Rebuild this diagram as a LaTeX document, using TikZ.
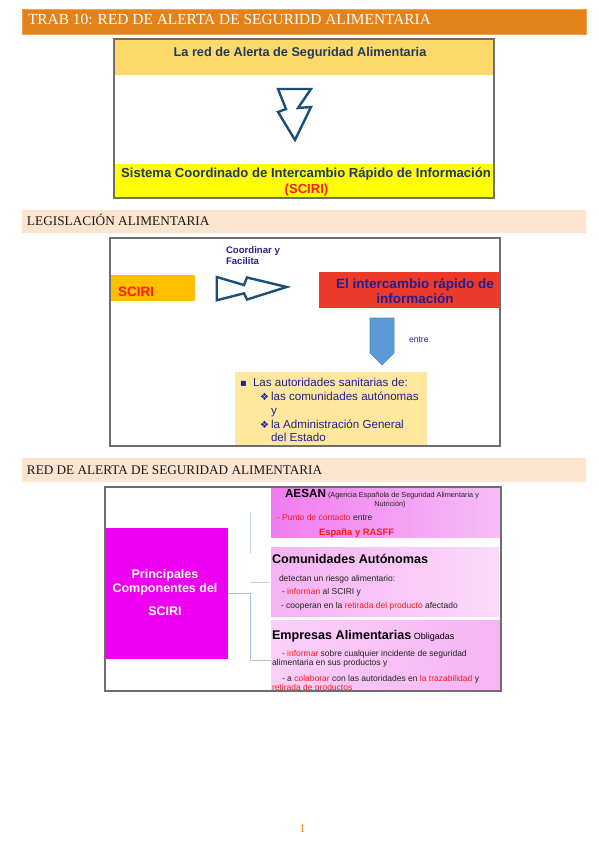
\documentclass[tikz,border=0pt]{standalone}
\usepackage{fontspec}
\setmainfont{Liberation Serif}
\newfontfamily\arialf{Liberation Sans}
\newfontfamily\dejavf{DejaVu Sans}
\newcommand\myfs[1]{\fontsize{#1}{#1}\selectfont}
\definecolor{orangebar}{HTML}{E4821A}
\definecolor{orangelight}{HTML}{F0A24E}
\definecolor{peach}{HTML}{FCE4CE}
\definecolor{navyA}{HTML}{1F3864}
\definecolor{yband}{HTML}{FDD96A}
\definecolor{ybright}{HTML}{FFFF00}
\definecolor{sred}{HTML}{FF1A1A}
\definecolor{boltblue}{HTML}{1B4F7A}
\definecolor{sciorange}{HTML}{FFC000}
\definecolor{redbox}{HTML}{EC3A2A}
\definecolor{navyB}{HTML}{22208E}
\definecolor{arrowblue}{HTML}{5B9BD5}
\definecolor{arrowedge}{HTML}{4A86C0}
\definecolor{lyellow}{HTML}{FFE79E}
\definecolor{magentab}{HTML}{F000F0}
\definecolor{connc}{HTML}{A9BCD8}
\definecolor{boxgray}{HTML}{6E6E6E}
\definecolor{darktext}{HTML}{222222}
\definecolor{pinkAl}{HTML}{F07CF0}
\definecolor{pinkAr}{HTML}{F6BDF6}
\definecolor{pinkBl}{HTML}{F6B2F3}
\definecolor{pinkBr}{HTML}{FBDAFA}
\definecolor{pinkCl}{HTML}{FAD0F8}
\definecolor{pinkCr}{HTML}{F7B4F3}
\tikzset{
  bar/.style={anchor=north west, minimum width=564pt},
  hdrtxt/.style={anchor=base west, font=\myfs{13.3}, text=black!90},
  frame/.style={anchor=north west, draw=boxgray, line width=1.5pt},
  hollowarrow/.style={draw=boltblue, line width=2.4pt, fill=white, line join=miter},
  sans/.style={anchor=base west, font=\arialf\myfs{8.5}, text=darktext},
  navytxt/.style={anchor=base west, font=\arialf\myfs{11.6}, text=navyB},
  bulletglyph/.style={anchor=base west, font=\dejavf\myfs{10}, text=navyB},
  conn/.style={draw=connc, line width=1pt},
  panel/.style={anchor=north west},
}
\begin{document}
\begin{tikzpicture}[x=1pt,y=-1pt, every node/.style={inner sep=0pt, outer sep=0pt}]
\useasboundingbox (0,0) rectangle (599,848);

% ---------- Header 1
\node[bar, fill=orangebar, draw=orangelight, line width=0.6pt, minimum height=25pt] (h1) at (22,9) {};
\node[anchor=base west, font=\myfs{15.4}, text=white] (h1t) at (28,25) {TRAB 10: RED DE ALERTA DE SEGURIDD ALIMENTARIA};

% ---------- Box 1
\node[panel, fill=yband, minimum width=380pt, minimum height=36pt] (band1) at (114,39) {};
\node[panel, fill=ybright, minimum width=380pt, minimum height=34pt] (band2) at (114,164) {};
\node[frame, minimum width=380pt, minimum height=159pt] (box1) at (114,39) {};
\node[anchor=base, font=\arialf\bfseries\myfs{12.7}, text=navyA] (t1) at (300,56.5) {La red de Alerta de Seguridad Alimentaria};
\node[anchor=base, font=\arialf\bfseries\myfs{13.1}, text=navyA] (t2) at (306,177.7) {Sistema Coordinado de Intercambio Rápido de Información};
\node[anchor=base, font=\arialf\bfseries\myfs{13.1}, text=sred] (t3) at (306.5,193.5) {(SCIRI)};
\draw[hollowarrow] (278,89) -- (311,89) -- (298,108) -- (311,107) -- (295,140) -- (278,112) -- (286,109) -- cycle;

% ---------- Header 2
\node[bar, fill=peach, minimum height=23pt] (h2) at (22,210) {};
\node[hdrtxt] (h2t) at (27,225.7) {LEGISLACIÓN ALIMENTARIA};

% ---------- Box 2
\node[panel, fill=sciorange, minimum width=85pt, minimum height=26pt] (sciri) at (110,275) {};
\node[anchor=base west, font=\arialf\bfseries\myfs{13.5}, text=sred] (scirit) at (118,296.7) {SCIRI};
\node[anchor=base west, font=\arialf\bfseries\myfs{9.6}, text=navyB] (coord1) at (226,253.3) {Coordinar y};
\node[anchor=base west, font=\arialf\bfseries\myfs{9.6}, text=navyB] (coord2) at (226,264.3) {Facilita};
\draw[hollowarrow] (216.7,277) -- (244,285) -- (247,277.5) -- (286.7,287) -- (247,299.5) -- (244,293.3) -- (216.7,300.3) -- cycle;
\node[panel, fill=redbox, minimum width=180pt, minimum height=36pt] (redb) at (319,272) {};
\node[anchor=base, font=\arialf\bfseries\myfs{13.5}, text=navyB] (red1) at (415,288) {El intercambio rápido de};
\node[anchor=base, font=\arialf\bfseries\myfs{13.5}, text=navyB] (red2) at (415,303) {información};
\draw[draw=arrowedge, fill=arrowblue, line width=0.6pt] (370,318) -- (394,318) -- (394,353) -- (382,365) -- (370,353) -- cycle;
\node[anchor=base west, font=\arialf\myfs{8.6}, text=navyB] (entre) at (409,342.5) {entre};
\node[panel, fill=lyellow, minimum width=192pt, minimum height=73pt] (ybox) at (235,372) {};
\node[bulletglyph] (bul0) at (240,386) {▪};
\node[navytxt] (l1) at (253,386) {Las autoridades sanitarias de:};
\node[bulletglyph] (bul1) at (260,400) {❖};
\node[navytxt] (l2) at (271,400) {las comunidades autónomas};
\node[navytxt] (l3) at (271,414) {y};
\node[bulletglyph] (bul2) at (260,428) {❖};
\node[navytxt] (l4) at (271,428) {la Administración General};
\node[navytxt] (l5) at (271,441.5) {del Estado};
\node[frame, minimum width=390pt, minimum height=208pt] (box2) at (110,238) {};

% ---------- Header 3
\node[bar, fill=peach, minimum height=24pt] (h3) at (22,458) {};
\node[hdrtxt, font=\myfs{13.2}] (h3t) at (27,474) {RED DE ALERTA DE SEGURIDAD ALIMENTARIA};

% ---------- Box 3
\node[panel, fill=magentab, minimum width=122pt, minimum height=131pt] (mag) at (106,528) {};
\node[anchor=base, font=\arialf\bfseries\myfs{12.5}, text=white] (m1) at (165,578) {Principales};
\node[anchor=base, font=\arialf\bfseries\myfs{12.5}, text=white] (m2) at (165,592.5) {Componentes del};
\node[anchor=base, font=\arialf\bfseries\myfs{12.5}, text=white] (m3) at (165,615) {SCIRI};

\node[panel, left color=pinkAl, right color=pinkAr, minimum width=229pt, minimum height=50pt] (p1) at (271,487) {};
\node[panel, left color=pinkBl, right color=pinkBr, minimum width=228pt, minimum height=69pt] (p2) at (271,547) {};
\node[panel, left color=pinkCl, right color=pinkCr, minimum width=229pt, minimum height=71pt] (p3) at (271,620) {};

\coordinate (c1) at (250,512);
\coordinate (c2) at (250,553);
\coordinate (c3) at (250,582);
\coordinate (c4) at (270,582);
\coordinate (c5) at (250,593);
\coordinate (c6) at (250,660);
\coordinate (c7) at (271,660);
\draw[conn, draw=connc!70] (c1) -- (c2);
\draw[conn, draw=connc!70] (c3) -- (c4);
\draw[conn] (mag.east |- c5) -- (c5) -- (c6) -- (c7);

% AESAN
\node[anchor=base west, font=\arialf\bfseries\myfs{11.7}, text=black] (aesan) at (285,497) {AESAN};
\node[sans, font=\arialf\myfs{7.3}] (aesan2) at (328,497) {(Agencia Española de Seguridad Alimentaria y};
\node[sans, anchor=base, font=\arialf\myfs{7.3}] (aesan3) at (390,506.5) {Nutrición)};
\node[sans] (aesan4) at (277,520.5) {\textcolor{sred}{- Punto de contacto} entre};
\node[sans, font=\arialf\bfseries\myfs{9.4}, text=sred] (aesan5) at (319,535) {España y RASFF};

% Comunidades
\node[anchor=base west, font=\arialf\bfseries\myfs{12.6}, text=black] (ca1) at (272,563) {Comunidades Autónomas};
\node[sans] (ca2) at (279,581) {detectan un riesgo alimentario:};
\node[sans] (ca3) at (282,594.5) {- \textcolor{sred}{informan} al SCIRI y};
\node[sans] (ca4) at (281,608) {- cooperan en la \textcolor{sred}{retirada del producto} afectado};

% Empresas
\node[anchor=base west, text=black] (ea1) at (272,639) {{\arialf\bfseries\myfs{12.6}Empresas Alimentarias} {\arialf\myfs{9}Obligadas}};
\node[sans] (ea2) at (282,656) {- \textcolor{sred}{informar} sobre cualquier incidente de seguridad};
\node[sans] (ea3) at (272,665) {alimentaria en sus productos y};
\node[sans] (ea4) at (282,681) {- a \textcolor{sred}{colaborar} con las autoridades en \textcolor{sred}{la trazabilidad} y};
\node[sans, text=sred] (ea5) at (272,690) {retirada de productos};

\node[frame, minimum width=396pt, minimum height=204pt] (box3) at (105,487) {};

% ---------- page number
\node[anchor=base, font=\myfs{11.5}, text=orangebar] (pg) at (302.5,832) {1};
\end{tikzpicture}
\end{document}
